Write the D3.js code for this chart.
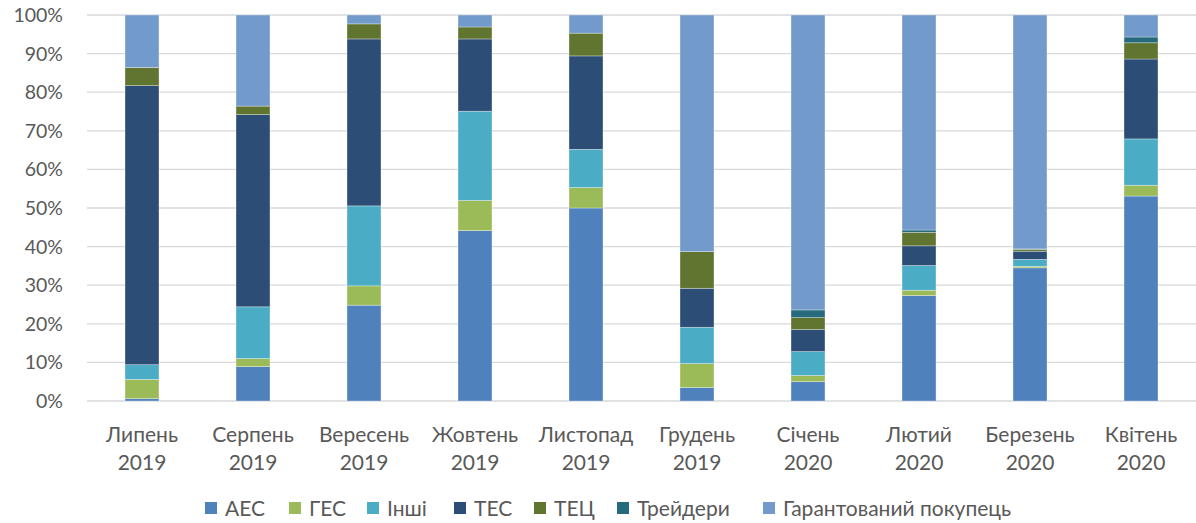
<!DOCTYPE html>
<html>
<head>
<meta charset="utf-8">
<script src="https://cdn.jsdelivr.net/npm/d3@7"></script>
<style>
  html, body { margin: 0; padding: 0; background: #fff; }
  svg { display: block; font-family: Lato, "Open Sans", sans-serif; }
</style>
</head>
<body>
<svg id="chart" width="1196" height="523"></svg>
<script>
const months = ["Липень", "Серпень", "Вересень", "Жовтень", "Листопад", "Грудень", "Січень", "Лютий", "Березень", "Квітень"];
const years = ["2019", "2019", "2019", "2019", "2019", "2019", "2020", "2020", "2020", "2020"];
const seriesNames = ["АЕС", "ГЕС", "Інші", "ТЕС", "ТЕЦ", "Трейдери", "Гарантований покупець"];
const aes      = [0.6, 8.9, 24.8, 44.1, 50.0, 3.5, 5.0, 27.3, 34.5, 53.1];
const ges      = [5.0, 2.1, 5.0, 7.8, 5.3, 6.2, 1.6, 1.4, 0.4, 2.8];
const inshi    = [3.8, 13.4, 20.7, 23.1, 9.9, 9.4, 6.2, 6.4, 1.8, 12.0];
const tes      = [72.3, 49.8, 43.2, 18.7, 24.2, 10.1, 5.7, 5.1, 2.1, 20.7];
const tets     = [4.7, 2.2, 3.9, 3.1, 5.9, 9.5, 3.1, 3.5, 0.5, 4.2];
const traders  = [0.0, 0.0, 0.0, 0.0, 0.0, 0.0, 2.0, 0.6, 0.1, 1.5];
const guaranteed = [13.6, 23.6, 2.3, 3.1, 4.7, 61.3, 76.4, 55.7, 60.6, 5.7];
const yTicks = [0, 10, 20, 30, 40, 50, 60, 70, 80, 90, 100];
const colors = ["#4F81BD", "#9BBB59", "#4BACC6", "#2C4D75", "#5F7530", "#276A7C", "#729ACA"];

(function () {
const seriesValues = [aes, ges, inshi, tes, tets, traders, guaranteed];
const rows = months.map((m, i) => {
  const r = { key: i };
  seriesNames.forEach((s, j) => { r[s] = seriesValues[j][i]; });
  return r;
});
const stacked = d3.stack().keys(seriesNames).offset(d3.stackOffsetExpand)(rows);

const svg = d3.select("#chart");
const pLeft = 86.5, pRight = 1196.5, pTop = 15, pBottom = 401;
const x = d3.scaleBand().domain(d3.range(months.length)).range([pLeft, pRight]).paddingInner(0.694).paddingOuter(0.347);
const y = d3.scaleLinear().domain([0, 1]).range([pBottom, pTop]);
const textColor = "#595959";

svg.append("g").selectAll("line").data(yTicks).join("line")
  .attr("x1", 87).attr("x2", 1196)
  .attr("y1", d => y(d / 100)).attr("y2", d => y(d / 100))
  .attr("stroke", "#d9d9d9").attr("stroke-width", 1.3);

svg.append("g").selectAll("text").data(yTicks).join("text")
  .attr("x", 63).attr("y", d => y(d / 100))
  .attr("dy", "0.36em").attr("text-anchor", "end")
  .attr("fill", textColor).attr("font-size", 19.5)
  .text(d => d + "%");

const g = svg.append("g");
stacked.forEach((layer, j) => {
  g.append("g").attr("fill", colors[j]).selectAll("rect").data(layer).join("rect")
    .attr("x", (d, i) => x(i))
    .attr("width", x.bandwidth())
    .attr("y", d => y(d[1]))
    .attr("height", d => Math.max(0, y(d[0]) - y(d[1])))
    .attr("stroke", "rgba(255,255,255,0.45)").attr("stroke-width", 0.7);
});

const xl = svg.append("g");
months.forEach((m, i) => {
  const cx = x(i) + x.bandwidth() / 2;
  xl.append("text").attr("x", cx).attr("y", 442).attr("text-anchor", "middle")
    .attr("fill", textColor).attr("font-size", 21).text(m);
  xl.append("text").attr("x", cx).attr("y", 470).attr("text-anchor", "middle")
    .attr("fill", textColor).attr("font-size", 21).text(years[i]);
});

const legendX = [205, 289, 367, 454, 534, 617, 763];
const lg = svg.append("g");
seriesNames.forEach((s, j) => {
  lg.append("rect").attr("x", legendX[j]).attr("y", 502).attr("width", 12).attr("height", 12).attr("fill", colors[j]);
  lg.append("text").attr("x", legendX[j] + 20).attr("y", 515.5)
    .attr("fill", textColor).attr("font-size", 21).text(s);
});
})();
</script>
</body>
</html>
